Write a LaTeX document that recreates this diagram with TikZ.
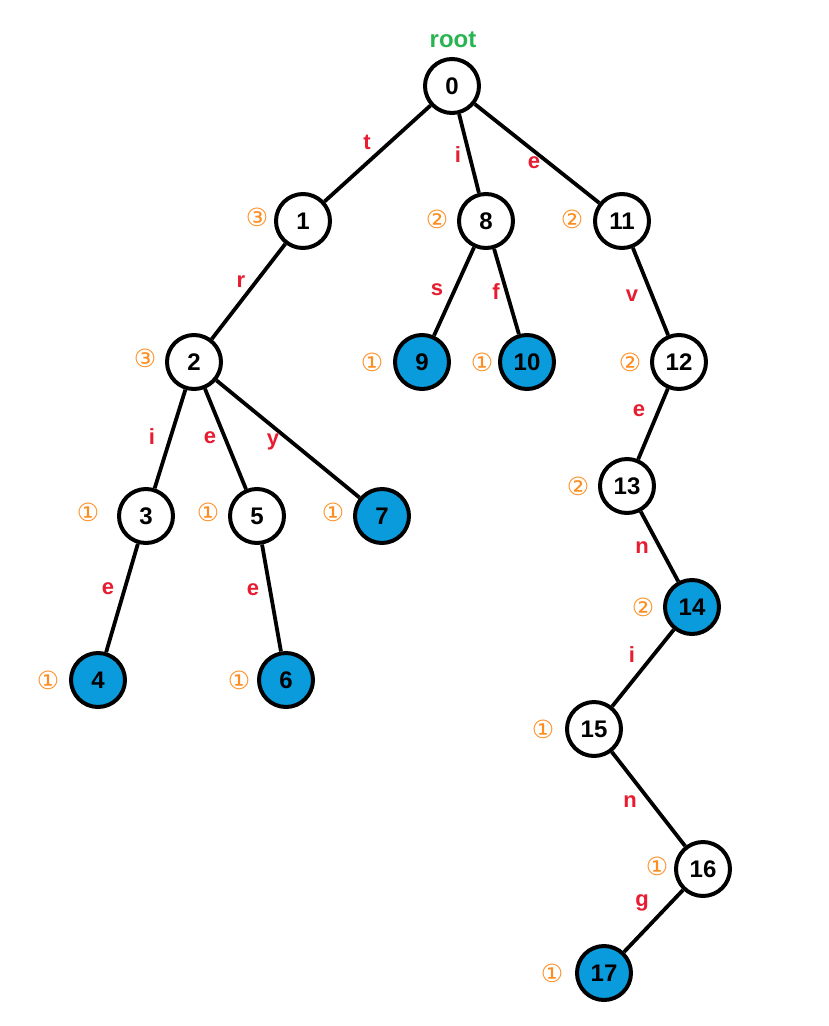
\documentclass[tikz,border=0pt]{standalone}
\usepackage{fontspec}
\setmainfont{Liberation Sans}
\newfontfamily\circfont{DejaVu Sans}
\definecolor{nblue}{RGB}{10,155,220}
\definecolor{lred}{RGB}{232,28,48}
\definecolor{corange}{RGB}{255,140,30}
\definecolor{rgreen}{RGB}{40,180,80}
\begin{document}
\begin{tikzpicture}[x=1pt,y=-1pt,
  tn/.style={circle,draw=black,line width=4pt,fill=white,minimum size=54pt,inner sep=0pt,font=\fontsize{24}{24}\selectfont\bfseries},
  leaf/.style={tn,fill=nblue},
  el/.style={text=lred,font=\fontsize{22}{22}\selectfont\bfseries,inner sep=0pt},
  cnt/.style={text=corange,font=\circfont\fontsize{25}{25}\selectfont,inner sep=0pt},
  edge/.style={line width=3.8pt}]
\useasboundingbox (0,0) rectangle (828,1026);
\node[tn] (n0) at (452,86) {0};
\node[tn] (n1) at (303,221) {1};
\node[tn] (n8) at (486,221) {8};
\node[tn] (n11) at (622,221) {11};
\node[tn] (n2) at (194,362) {2};
\node[leaf] (n9) at (422,362) {9};
\node[leaf] (n10) at (527,362) {10};
\node[tn] (n12) at (679,362) {12};
\node[tn] (n3) at (146,516) {3};
\node[tn] (n5) at (257,516) {5};
\node[leaf] (n7) at (382,516) {7};
\node[tn] (n13) at (627,486) {13};
\node[leaf] (n4) at (98,680) {4};
\node[leaf] (n6) at (286,680) {6};
\node[leaf] (n14) at (692,607) {14};
\node[tn] (n15) at (594,729) {15};
\node[tn] (n16) at (703,869) {16};
\node[leaf] (n17) at (604,973) {17};
\foreach \a/\b in {n0/n1,n0/n8,n0/n11,n1/n2,n8/n9,n8/n10,n11/n12,n2/n3,n2/n5,n2/n7,n3/n4,n5/n6,n12/n13,n13/n14,n14/n15,n15/n16,n16/n17}
  \draw[edge] (\a) -- (\b);
\node[text=rgreen,font=\fontsize{24}{24}\selectfont\bfseries,inner sep=0pt] (root) at (453,40) {root};
\node[el] (lt) at (367,142) {t};
\node[el] (li1) at (458,155) {i};
\node[el] (le1) at (534,163) {e};
\node[el] (lr) at (241,282) {r};
\node[el] (ls) at (437,290) {s};
\node[el] (lf) at (496,292) {f};
\node[el] (lv) at (632,296) {v};
\node[el] (li2) at (152,437) {i};
\node[el] (le2) at (210,438) {e};
\node[el] (ly) at (273,442) {y};
\node[el] (le3) at (639,411) {e};
\node[el] (le4) at (108,589) {e};
\node[el] (le5) at (253,590) {e};
\node[el] (ln1) at (642,548) {n};
\node[el] (li3) at (632,655) {i};
\node[el] (ln2) at (630,802) {n};
\node[el] (lg) at (642,903) {g};
\node[cnt] (c1) at (257,217) {③};
\node[cnt] (c8) at (437,219) {②};
\node[cnt] (c11) at (572,219) {②};
\node[cnt] (c2) at (145,358) {③};
\node[cnt] (c9) at (372,362) {①};
\node[cnt] (c10) at (482,362) {①};
\node[cnt] (c12) at (630,362) {②};
\node[cnt] (c3) at (88,512) {①};
\node[cnt] (c5) at (208,512) {①};
\node[cnt] (c7) at (333,512) {①};
\node[cnt] (c13) at (578,486) {②};
\node[cnt] (c4) at (48,680) {①};
\node[cnt] (c6) at (239,680) {①};
\node[cnt] (c14) at (643,607) {②};
\node[cnt] (c15) at (543,729) {①};
\node[cnt] (c16) at (657,866) {①};
\node[cnt] (c17) at (552,973) {①};
\end{tikzpicture}
\end{document}
